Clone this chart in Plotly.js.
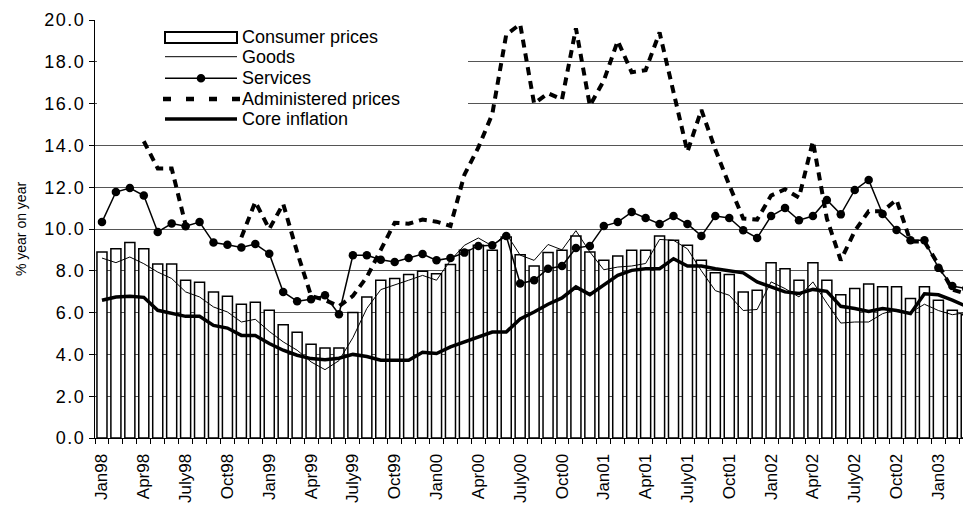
<!DOCTYPE html>
<html>
<head>
<meta charset="utf-8">
<script src="https://cdn.plot.ly/plotly-3.0.1.min.js"></script>
<style>
  html, body { margin: 0; padding: 0; background: #fff; }
  #chart { width: 963px; height: 506px; }
  .yaxislayer-above text { letter-spacing: 1.5px; }
</style>
</head>
<body>
<div id="chart"></div>
<script>
// ---- data ----
const months = [
  "Jan98","Feb98","Mar98","Apr98","May98","Jun98","Jul98","Aug98","Sep98","Oct98","Nov98","Dec98",
  "Jan99","Feb99","Mar99","Apr99","May99","Jun99","Jul99","Aug99","Sep99","Oct99","Nov99","Dec99",
  "Jan00","Feb00","Mar00","Apr00","May00","Jun00","Jul00","Aug00","Sep00","Oct00","Nov00","Dec00",
  "Jan01","Feb01","Mar01","Apr01","May01","Jun01","Jul01","Aug01","Sep01","Oct01","Nov01","Dec01",
  "Jan02","Feb02","Mar02","Apr02","May02","Jun02","Jul02","Aug02","Sep02","Oct02","Nov02","Dec02",
  "Jan03","Feb03","Mar03"
];
const tickText = [
  "Jan98","","","Apr98","","","July98","","","Oct98","","",
  "Jan99","","","Apr99","","","July99","","","Oct99","","",
  "Jan00","","","Apr00","","","July00","","","Oct00","","",
  "Jan01","","","Apr01","","","July01","","","Oct01","","",
  "Jan02","","","Apr02","","","July02","","","Oct02","","",
  "Jan03","",""
];
const consumerPrices = [
  8.9, 9.06, 9.36, 9.06, 8.33, 8.33, 7.55, 7.45, 6.99, 6.78, 6.4, 6.49,
  6.11, 5.42, 5.06, 4.48, 4.31, 4.31, 6.0, 6.75, 7.55, 7.63, 7.82, 7.98,
  7.86, 8.3, 8.98, 9.22, 8.98, 9.62, 8.77, 8.23, 8.87, 8.98, 9.67, 8.9,
  8.5, 8.71, 8.98, 8.98, 9.67, 9.46, 9.22, 8.5, 7.91, 7.82, 6.99, 7.07,
  8.39, 8.1, 7.55, 8.39, 7.55, 6.86, 7.15, 7.37, 7.24, 7.24, 6.67, 7.24,
  6.59, 6.11, 5.9
];
const goods = [
  8.61, 8.39, 8.66, 8.34, 7.94, 7.63, 6.99, 6.75, 6.27, 6.03, 5.55, 5.68,
  5.1, 4.6, 4.2, 3.64, 3.27, 3.7, 4.8, 6.2, 7.1, 7.31, 7.55, 7.78,
  7.55, 8.5, 9.22, 9.57, 9.19, 9.78, 8.75, 8.5, 9.26, 9.0, 9.92, 8.9,
  8.05, 8.18, 8.23, 8.35, 9.5, 9.46, 9.05, 8.0, 7.05, 6.83, 6.1, 6.15,
  7.47, 7.15, 6.75, 7.47, 6.45, 5.5, 5.55, 5.55, 5.95, 6.15, 6.0, 6.4,
  6.1, 5.9, 6.0
];
const services = [
  10.33, 11.77, 11.96, 11.6, 9.86, 10.26, 10.13, 10.33, 9.35, 9.25, 9.11, 9.28,
  8.82, 6.99, 6.54, 6.64, 6.83, 5.92, 8.74, 8.74, 8.53, 8.42, 8.61, 8.8,
  8.5, 8.61, 8.87, 9.19, 9.22, 9.67, 7.39, 7.55, 8.1, 8.23, 9.09, 9.19,
  10.14, 10.33, 10.81, 10.53, 10.24, 10.62, 10.24, 9.67, 10.62, 10.53, 9.94, 9.57,
  10.62, 11.0, 10.42, 10.62, 11.39, 10.7, 11.87, 12.35, 10.72, 9.95, 9.46, 9.46,
  8.14, 7.27, 7.15
];
const administeredPrices = [
  null, null, null, 14.2, 12.9, 12.9, 10.2, null, null, null, 9.6, 11.3,
  10.0, 11.2, 8.9, 6.8, 6.6, 6.3, 6.8, 7.7, 9.0, 10.3, 10.25, 10.45,
  10.35, 10.15, 12.6, 13.9, 15.5, 19.3, 19.8, 16.0, 16.5, 16.2, 19.6, 15.9,
  17.1, 19.0, 17.5, 17.6, 19.4, 16.6, 13.7, 15.7, 13.8, 12.1, 10.5, 10.45,
  11.6, 11.9, 11.5, 14.2, 10.5, 8.5, 9.9, 10.85, 10.85, 11.4, 9.4, 9.4,
  8.3, 7.1, 6.9
];
const coreInflation = [
  6.59, 6.75, 6.78, 6.73, 6.11, 5.98, 5.82, 5.82, 5.39, 5.26, 4.91, 4.91,
  4.52, 4.2, 3.96, 3.8, 3.75, 3.82, 4.0, 3.9, 3.72, 3.72, 3.72, 4.1,
  4.04, 4.36, 4.6, 4.87, 5.07, 5.07, 5.7, 6.03, 6.4, 6.7, 7.23, 6.86,
  7.31, 7.78, 8.02, 8.1, 8.1, 8.58, 8.23, 8.23, 8.1, 8.02, 7.9, 7.47,
  7.23, 6.99, 6.91, 7.11, 7.02, 6.3, 6.2, 6.05, 6.2, 6.1, 5.95, 6.9,
  6.85, 6.6, 6.3
];
const seriesNames = ["Consumer prices", "Goods", "Services", "Administered prices", "Core inflation"];
const yAxisTitle = "% year on year";

// ---- traces ----
const traces = [
  { type: "bar", name: seriesNames[0], x: months, y: consumerPrices,
    marker: { color: "#ffffff", line: { color: "#000000", width: 1.5 } }, showlegend: false },
  { type: "scatter", mode: "lines", name: seriesNames[1], x: months, y: goods,
    line: { color: "#000000", width: 1 }, showlegend: false },
  { type: "scatter", mode: "lines+markers", name: seriesNames[2], x: months, y: services,
    line: { color: "#000000", width: 1.5 }, marker: { color: "#000000", size: 8.5, symbol: "circle" }, showlegend: false },
  { type: "scatter", mode: "lines", name: seriesNames[3], x: months, y: administeredPrices,
    line: { color: "#000000", width: 4, dash: "8px,6px" }, connectgaps: false, showlegend: false },
  { type: "scatter", mode: "lines", name: seriesNames[4], x: months, y: coreInflation,
    line: { color: "#000000", width: 3.5 }, showlegend: false }
];

// ---- manual legend (pixel geometry converted to paper coords) ----
const L = 95, T = 20, W = 868, H = 418;
const px = v => (v - L) / W;
const py = v => (T + H - v) / H;
const shapes = [
  { type: "rect", xref: "paper", yref: "paper", x0: px(97), x1: px(468), y0: py(131), y1: py(24),
    fillcolor: "#ffffff", line: { width: 0 }, layer: "above" }
];
const rowsY = [37.5, 56.7, 78.3, 99, 119];
const sx0 = 165, sx1 = 237;
shapes.push({ type: "rect", xref: "paper", yref: "paper", x0: px(sx0), x1: px(sx1), y0: py(rowsY[0] + 5.5), y1: py(rowsY[0] - 5.5),
  fillcolor: "#ffffff", line: { color: "#000000", width: 2 }, layer: "above" });
shapes.push({ type: "line", xref: "paper", yref: "paper", x0: px(sx0), x1: px(sx1), y0: py(rowsY[1]), y1: py(rowsY[1]),
  line: { color: "#000000", width: 1 }, layer: "above" });
shapes.push({ type: "line", xref: "paper", yref: "paper", x0: px(sx0), x1: px(sx1), y0: py(rowsY[2]), y1: py(rowsY[2]),
  line: { color: "#000000", width: 1.5 }, layer: "above" });
shapes.push({ type: "circle", xref: "paper", yref: "paper", x0: px(201 - 4.3), x1: px(201 + 4.3), y0: py(rowsY[2] + 4.3), y1: py(rowsY[2] - 4.3),
  fillcolor: "#000000", line: { color: "#000000", width: 0 }, layer: "above" });
shapes.push({ type: "line", xref: "paper", yref: "paper", x0: px(sx0 - 2), x1: px(sx1 + 3), y0: py(rowsY[3]), y1: py(rowsY[3]),
  line: { color: "#000000", width: 4.5, dash: "8px,15px" }, layer: "above" });
shapes.push({ type: "line", xref: "paper", yref: "paper", x0: px(sx0), x1: px(sx1), y0: py(rowsY[4]), y1: py(rowsY[4]),
  line: { color: "#000000", width: 3.5 }, layer: "above" });

const annotations = seriesNames.map((name, i) => ({
  xref: "paper", yref: "paper", x: px(240), y: py(rowsY[i]), xanchor: "left", yanchor: "middle",
  text: name, showarrow: false, font: { family: "Liberation Sans, Arial, sans-serif", size: 18, color: "#000000" }
}));

const layout = {
  width: 963, height: 506,
  margin: { l: L, r: 0, t: T, b: 68, pad: 0 },
  paper_bgcolor: "#ffffff", plot_bgcolor: "#ffffff",
  font: { family: "Liberation Sans, Arial, sans-serif", color: "#000000", size: 16 },
  showlegend: false,
  bargap: 0.28,
  xaxis: {
    type: "category", categoryorder: "array", categoryarray: months,
    range: [-0.5, -0.5 + W / 13.94],
    tickmode: "array", tickvals: months, ticktext: tickText,
    tickson: "boundaries", ticks: "outside", ticklen: 5, tickcolor: "#000000", tickwidth: 1,
    tickangle: -90, ticklabelstandoff: 8,
    tickfont: { size: 17, color: "#000000" },
    showline: true, linecolor: "#000000", linewidth: 1,
    showgrid: false, zeroline: false, fixedrange: true
  },
  yaxis: {
    range: [0, 20], dtick: 2, tick0: 0, tickformat: ".1f",
    ticks: "outside", ticklen: 5, tickcolor: "#000000", tickwidth: 1,
    tickfont: { size: 18, color: "#000000" },
    showline: true, linecolor: "#000000", linewidth: 1,
    showgrid: true, gridcolor: "#555555", gridwidth: 1,
    zeroline: false, fixedrange: true,
    title: { text: yAxisTitle, font: { size: 14, color: "#000000" }, standoff: 20 }
  },
  shapes: shapes,
  annotations: annotations
};

Plotly.newPlot("chart", traces, layout, { displayModeBar: false, staticPlot: true });
</script>
</body>
</html>
